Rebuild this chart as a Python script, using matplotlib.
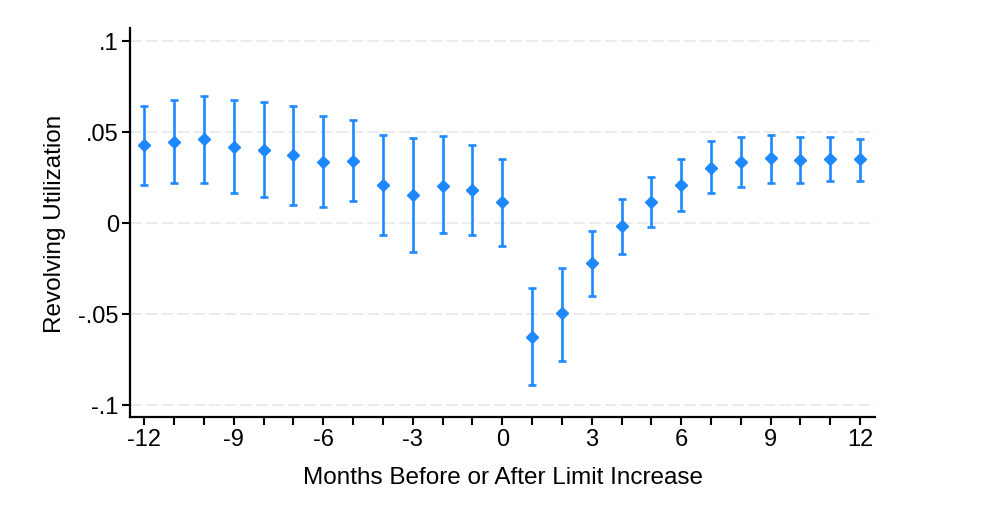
import matplotlib
matplotlib.use("Agg")
import matplotlib.pyplot as plt
import numpy as np

months = list(range(-12, 13))
estimate = [0.0425, 0.0443, 0.0458, 0.0419, 0.0401, 0.0370, 0.0333, 0.0339,
            0.0210, 0.0152, 0.0201, 0.0181, 0.0112,
            -0.0626, -0.0498, -0.0224, -0.0020, 0.0112, 0.0205, 0.0302,
            0.0335, 0.0355, 0.0346, 0.0352, 0.0348]
upper = [0.0643, 0.0677, 0.0698, 0.0677, 0.0665, 0.0643, 0.0586, 0.0566,
         0.0485, 0.0465, 0.0476, 0.0430, 0.0352,
         -0.0361, -0.0249, -0.0046, 0.0130, 0.0253, 0.0352, 0.0452,
         0.0474, 0.0485, 0.0474, 0.0474, 0.0463]
lower = [0.0209, 0.0220, 0.0220, 0.0165, 0.0141, 0.0097, 0.0084, 0.0121,
         -0.0070, -0.0159, -0.0059, -0.0070, -0.0126,
         -0.0892, -0.0760, -0.0403, -0.0170, -0.0026, 0.0064, 0.0165,
         0.0198, 0.0220, 0.0220, 0.0229, 0.0229]
xticks = [-12, -9, -6, -3, 0, 3, 6, 9, 12]
xtick_labels = ["-12", "-9", "-6", "-3", "0", "3", "6", "9", "12"]
yticks = [-0.1, -0.05, 0, 0.05, 0.1]
ytick_labels = ["-.1", "-.05", "0", ".05", ".1"]

plt.rcParams['font.family'] = ['Liberation Sans', 'DejaVu Sans']
plt.rcParams['axes.unicode_minus'] = False

fig = plt.figure(figsize=(9.81, 5.10), dpi=100)
ax = fig.add_axes([0.1325, 0.181, 0.892 - 0.1325, 0.943 - 0.181])

color = '#1E88FF'
est = np.array(estimate)
err = np.vstack([est - np.array(lower), np.array(upper) - est])
ax.errorbar(months, est, yerr=err, fmt='D', color=color, ecolor=color,
            elinewidth=1.9, capsize=2.6, capthick=1.9, markersize=6.5,
            zorder=3)

ax.set_xlim(-12.48, 12.5)
ax.set_ylim(-0.1066, 0.107)
ax.set_xticks(xticks)
ax.set_xticklabels(xtick_labels)
ax.set_xticks(months, minor=True)
ax.set_yticks(yticks)
ax.set_yticklabels(ytick_labels)

for y in yticks:
    ax.axhline(y, color='#e8e8e8', lw=1.2, linestyle=(0, (7, 2.5)), zorder=1)

for s in ['top', 'right']:
    ax.spines[s].set_visible(False)
for s in ['left', 'bottom']:
    ax.spines[s].set_linewidth(1.6)
    ax.spines[s].set_color('black')

ax.tick_params(axis='both', which='major', direction='out', length=6, width=1.5,
               labelsize=17, colors='black')
ax.tick_params(axis='x', which='minor', direction='out', length=6, width=1.5)
ax.tick_params(axis='x', which='major', pad=2)
ax.tick_params(axis='y', which='major', pad=2)

ax.set_xlabel('Months Before or After Limit Increase', fontsize=17.5, labelpad=12)
ax.set_ylabel('Revolving Utilization', fontsize=17.5, labelpad=9)

fig.savefig('out.png', dpi=100, facecolor='white')
